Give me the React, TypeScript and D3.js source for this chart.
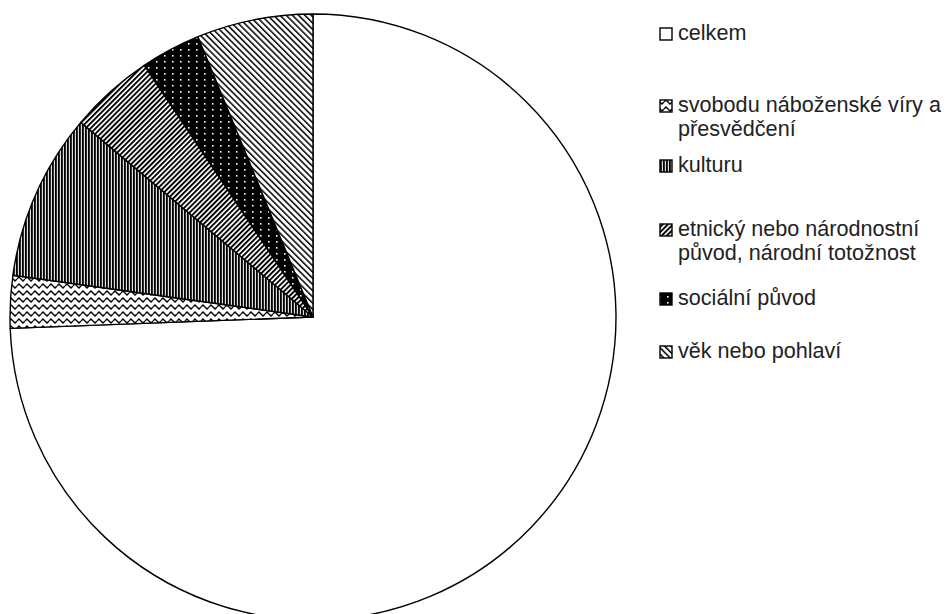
import React from "react";
import * as d3 from "d3";

const categories: string[] = [
  "celkem",
  "svobodu náboženské víry a přesvědčení",
  "kulturu",
  "etnický nebo národnostní původ, národní totožnost",
  "sociální původ",
  "věk nebo pohlaví",
];
const values: number[] = [74.4, 2.8, 8.9, 4.5, 3.2, 6.2];
const legendLines: string[][] = [
  ["celkem"],
  ["svobodu náboženské víry a", "přesvědčení"],
  ["kulturu"],
  ["etnický nebo národnostní", "původ, národní totožnost"],
  ["sociální původ"],
  ["věk nebo pohlaví"],
];
const patternIds: string[] = ["pWhite", "pWave", "pVert", "pFwd", "pDots", "pBack"];

const W = 950;
const H = 614;

export default function App() {
  const cx = 313;
  const cy = 317;
  const r = 303;
  const pie = d3
    .pie<number>()
    .sort(null)
    .value((d) => d)
    .startAngle(0)
    .endAngle(2 * Math.PI);
  const arcs = pie(values);
  const arc = d3.arc<d3.PieArcDatum<number>>().innerRadius(0).outerRadius(r);

  const legendX = 660;
  const legendTextX = 678;
  const legendBase: number[] = [40, 112, 172, 236, 305, 358];
  const lineH = 24;

  return (
    <div style={{ position: "absolute", left: 0, top: 0 }}>
      <svg width={W} height={H} style={{ display: "block", background: "#fff" }}>
        <defs>
          <pattern id="pWhite" patternUnits="userSpaceOnUse" width={4} height={4}>
            <rect width={4} height={4} fill="#fff" />
          </pattern>
          <pattern id="pWave" patternUnits="userSpaceOnUse" width={8} height={7}>
            <rect width={8} height={7} fill="#fff" />
            <path d="M0,4 L2,2 L4,4 L6,6 L8,4" fill="none" stroke="#000" strokeWidth={1.4} />
          </pattern>
          <pattern id="pVert" patternUnits="userSpaceOnUse" width={3} height={3}>
            <rect width={3} height={3} fill="#ddd" />
            <rect x={0} width={1.8} height={3} fill="#000" />
          </pattern>
          <pattern id="pFwd" patternUnits="userSpaceOnUse" width={3.6} height={4} patternTransform="rotate(45)">
            <rect width={3.6} height={4} fill="#fff" />
            <rect x={0} width={1.9} height={4} fill="#000" />
          </pattern>
          <pattern id="pDots" patternUnits="userSpaceOnUse" width={8} height={6}>
            <rect width={8} height={6} fill="#000" />
            <rect x={3} y={2} width={1.6} height={1.6} fill="#fff" />
          </pattern>
          <pattern id="pBack" patternUnits="userSpaceOnUse" width={4.4} height={4} patternTransform="rotate(-45)">
            <rect width={4.4} height={4} fill="#fff" />
            <rect x={0} width={1.5} height={4} fill="#000" />
          </pattern>
        </defs>
        <g transform={`translate(${cx},${cy})`}>
          {arcs.map((a, i) => (
            <path
              key={i}
              d={arc(a) || ""}
              fill={`url(#${patternIds[i]})`}
              stroke="#000"
              strokeWidth={1.4}
              strokeLinejoin="round"
            />
          ))}
        </g>
        <g fontFamily="'Liberation Sans', Arial, sans-serif" fontSize={21.6} fill="#222">
          {categories.map((c, i) => (
            <g key={c}>
              <rect
                x={legendX}
                y={legendBase[i] - 12}
                width={12}
                height={12}
                fill={`url(#${patternIds[i]})`}
                stroke="#000"
                strokeWidth={1.4}
              />
              {legendLines[i].map((ln, j) => (
                <text key={j} x={legendTextX} y={legendBase[i] + j * lineH}>
                  {ln}
                </text>
              ))}
            </g>
          ))}
        </g>
      </svg>
    </div>
  );
}
